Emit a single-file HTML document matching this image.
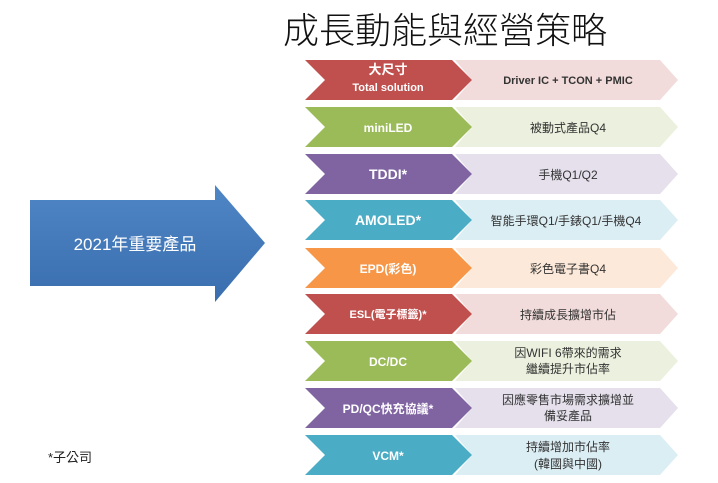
<!DOCTYPE html>
<html><head><meta charset="utf-8"><style>
body{margin:0;background:#fff;}
svg{display:block;font-family:"Liberation Sans","Noto Sans CJK TC",sans-serif;}
</style></head><body>
<svg width="718" height="483" viewBox="0 0 718 483" xmlns="http://www.w3.org/2000/svg">
<defs>
<linearGradient id="bg" x1="0" y1="0" x2="0" y2="1"><stop offset="0" stop-color="#4f86c6"/><stop offset="1" stop-color="#3a6eae"/></linearGradient>
</defs>
<text x="445" y="43" font-size="36" text-anchor="middle" fill="#111" font-family="Noto Sans CJK TC, sans-serif" font-weight="300">成長動能與經營策略</text>
<polygon points="30,200 215,200 215,185 265,243 215,302 215,286 30,286" fill="url(#bg)"/>
<text x="135" y="250" font-size="17" fill="#fff" text-anchor="middle">2021年重要產品</text>
<text x="48" y="462" font-size="13" fill="#222">*子公司</text>
<g font-weight="bold" font-size="12">
<g transform="translate(0,80)">
<polygon points="455,-20 660,-20 678,0 660,20 455,20 472,0" fill="#f2dcdb"/>
<polygon points="305,-20 452,-20 472,0 452,20 305,20 325,0" fill="#c0504d"/>
<text x="388" y="-6" fill="#fff" text-anchor="middle" font-size="13">大尺寸</text>
<text x="388" y="11" fill="#fff" text-anchor="middle" font-size="11">Total solution</text>
<text x="568" y="4" fill="#333" text-anchor="middle" font-size="11">Driver IC + TCON + PMIC</text>
</g>
<g transform="translate(0,127)">
<polygon points="455,-20 660,-20 678,0 660,20 455,20 472,0" fill="#ebf1de"/>
<polygon points="305,-20 452,-20 472,0 452,20 305,20 325,0" fill="#9bbb59"/>
<text x="388" y="5" fill="#fff" text-anchor="middle">miniLED</text>
<text x="568" y="5" fill="#333" text-anchor="middle" font-weight="normal">被動式產品Q4</text>
</g>
<g transform="translate(0,174)">
<polygon points="455,-20 660,-20 678,0 660,20 455,20 472,0" fill="#e5e0ec"/>
<polygon points="305,-20 452,-20 472,0 452,20 305,20 325,0" fill="#8064a2"/>
<text x="388" y="5" fill="#fff" text-anchor="middle" font-size="14">TDDI*</text>
<text x="568" y="5" fill="#333" text-anchor="middle" font-weight="normal">手機Q1/Q2</text>
</g>
<g transform="translate(0,220)">
<polygon points="455,-20 660,-20 678,0 660,20 455,20 472,0" fill="#dbeef4"/>
<polygon points="305,-20 452,-20 472,0 452,20 305,20 325,0" fill="#4bacc6"/>
<text x="388" y="5" fill="#fff" text-anchor="middle" font-size="14">AMOLED*</text>
<text x="566" y="5" fill="#333" text-anchor="middle" font-weight="normal">智能手環Q1/手錶Q1/手機Q4</text>
</g>
<g transform="translate(0,268)">
<polygon points="455,-20 660,-20 678,0 660,20 455,20 472,0" fill="#fde9d9"/>
<polygon points="305,-20 452,-20 472,0 452,20 305,20 325,0" fill="#f79646"/>
<text x="388" y="5" fill="#fff" text-anchor="middle">EPD(彩色)</text>
<text x="568" y="5" fill="#333" text-anchor="middle" font-weight="normal">彩色電子書Q4</text>
</g>
<g transform="translate(0,314)">
<polygon points="455,-20 660,-20 678,0 660,20 455,20 472,0" fill="#f2dcdb"/>
<polygon points="305,-20 452,-20 472,0 452,20 305,20 325,0" fill="#c0504d"/>
<text x="388" y="4" fill="#fff" text-anchor="middle" font-size="11">ESL(電子標籤)*</text>
<text x="568" y="5" fill="#333" text-anchor="middle" font-weight="normal">持續成長擴增市佔</text>
</g>
<g transform="translate(0,361)">
<polygon points="455,-20 660,-20 678,0 660,20 455,20 472,0" fill="#ebf1de"/>
<polygon points="305,-20 452,-20 472,0 452,20 305,20 325,0" fill="#9bbb59"/>
<text x="388" y="5" fill="#fff" text-anchor="middle">DC/DC</text>
<text x="568" y="-4" fill="#333" text-anchor="middle" font-weight="normal">因WIFI 6帶來的需求</text>
<text x="568" y="12" fill="#333" text-anchor="middle" font-weight="normal">繼續提升市佔率</text>
</g>
<g transform="translate(0,408)">
<polygon points="455,-20 660,-20 678,0 660,20 455,20 472,0" fill="#e5e0ec"/>
<polygon points="305,-20 452,-20 472,0 452,20 305,20 325,0" fill="#8064a2"/>
<text x="388" y="5" fill="#fff" text-anchor="middle">PD/QC快充協議*</text>
<text x="568" y="-4" fill="#333" text-anchor="middle" font-weight="normal">因應零售市場需求擴增並</text>
<text x="568" y="12" fill="#333" text-anchor="middle" font-weight="normal">備妥產品</text>
</g>
<g transform="translate(0,455)">
<polygon points="455,-20 660,-20 678,0 660,20 455,20 472,0" fill="#dbeef4"/>
<polygon points="305,-20 452,-20 472,0 452,20 305,20 325,0" fill="#4bacc6"/>
<text x="388" y="5" fill="#fff" text-anchor="middle">VCM*</text>
<text x="568" y="-4" fill="#333" text-anchor="middle" font-weight="normal">持續增加市佔率</text>
<text x="568" y="13" fill="#333" text-anchor="middle" font-weight="normal">(韓國與中國)</text>
</g>
</g>
</svg>
</body></html>
